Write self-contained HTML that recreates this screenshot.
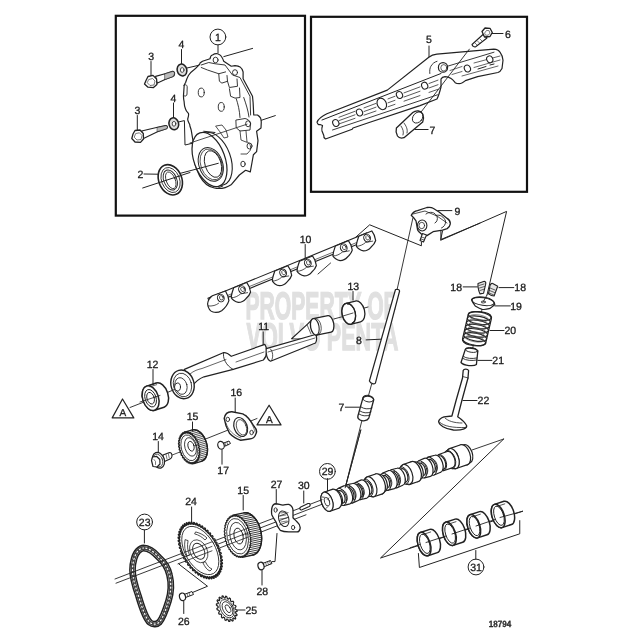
<!DOCTYPE html>
<html><head><meta charset="utf-8">
<style>
html,body{margin:0;padding:0;background:#fff;}
body{width:640px;height:640px;overflow:hidden;}
svg{display:block;will-change:transform;}
text{font-family:"Liberation Sans",sans-serif;font-size:10.5px;fill:#1a1a1a;stroke:#1a1a1a;stroke-width:0.3px;}
</style></head><body>
<svg width="640" height="640" viewBox="0 0 640 640" text-rendering="geometricPrecision">
<g id="wm" fill="#d9d9d9" stroke="none" style="font-weight:bold">
<text x="245.5" y="318.5" style="font-size:38.5px;fill:#e0e0e0;stroke:#e0e0e0;stroke-width:1.3px" textLength="151" lengthAdjust="spacingAndGlyphs">PROPERTY OF</text>
<text x="246.5" y="349.5" style="font-size:38.5px;fill:#e0e0e0;stroke:#e0e0e0;stroke-width:1.3px" textLength="152" lengthAdjust="spacingAndGlyphs">VOLVO PENTA</text>

</g>
<g fill="none" stroke="#111" stroke-width="2.2">
<rect x="115.8" y="15.8" width="189.2" height="199.8"/>
<rect x="311" y="16.8" width="216" height="175"/>
</g>
<g id="box1" fill="none" stroke="#222" stroke-width="1" stroke-linejoin="round" stroke-linecap="round">
<!-- callout 1 -->
<circle cx="217.9" cy="37" r="7.9"/>
<text x="218" y="40.6" text-anchor="middle" stroke="none">1</text>
<line x1="218" y1="44.9" x2="218" y2="53"/>
<!-- labels 3,4 upper -->
<text x="151.2" y="59.5" text-anchor="middle" stroke="none">3</text>
<line x1="151" y1="61.5" x2="151" y2="76"/>
<text x="181.5" y="48" text-anchor="middle" stroke="none">4</text>
<line x1="181.5" y1="49.5" x2="181.5" y2="64"/>
<!-- bolt upper -->
<path d="M155.6,76.4 L165,73.7 L172.5,71.4 C174,71.3 174.8,72.5 174.6,74 C174.5,75.5 174,76.2 173,76.6 L165,79.6 L157,83.3 Z" fill="#fff" stroke-width="1.1"/>
<path d="M165,73.8 L172.5,71.5 C174,71.4 174.7,72.5 174.5,74 L173,76.6 L165,79.5 Z" fill="#bbb" stroke-width="0.6"/>
<path d="M146,80.5 L148,76.5 L153,75.4 L156.6,79 L156.9,84.5 L153.5,87.6 L148,87.2 L144.5,84 Z" fill="#fff" stroke-width="1.3"/>
<path d="M149,79.5 L152.5,78.5 L155,81 L154,85 L150,85.5 L147.5,83 Z" stroke-width="0.6"/>
<!-- washer upper -->
<ellipse cx="182" cy="70" rx="4.8" ry="6" transform="rotate(-15 182 70)" stroke-width="1.5" fill="#ddd"/>
<ellipse cx="182.2" cy="70" rx="1.8" ry="2.4" fill="#fff" stroke-width="0.8"/>
<line x1="187" y1="68" x2="200" y2="65"/>
<line x1="223.8" y1="56.6" x2="252.6" y2="48.4"/>
<!-- labels lower -->
<text x="137.5" y="113.5" text-anchor="middle" stroke="none">3</text>
<line x1="137.3" y1="115.5" x2="137.3" y2="131"/>
<text x="173.5" y="101.7" text-anchor="middle" stroke="none">4</text>
<line x1="173.5" y1="103" x2="173.5" y2="118"/>
<!-- bolt lower -->
<path d="M141.7,131 L157.5,127.3 L165.5,125.6 C167,125.5 167.7,126.5 167.4,127.7 L166.5,128.8 L157.5,131.7 L143.5,138.6 Z" fill="#fff" stroke-width="1.1"/>
<path d="M157.5,127.4 L165.5,125.7 C167,125.6 167.6,126.5 167.3,127.7 L166.5,128.8 L157.5,131.6 Z" fill="#bbb" stroke-width="0.6"/>
<path d="M133,134 L135,130.5 L140,130 L143.3,133.5 L143.5,139 L140.5,142.4 L135,142 L131.8,138.5 Z" fill="#fff" stroke-width="1.3"/>
<path d="M136,133.5 L139.5,132.8 L142,135.5 L141,139.5 L137,140 L134.5,137.5 Z" stroke-width="0.6"/>
<ellipse cx="173.8" cy="123.8" rx="4.8" ry="6" transform="rotate(-15 173.8 123.8)" stroke-width="1.5" fill="#ddd"/>
<ellipse cx="174" cy="123.8" rx="1.8" ry="2.4" fill="#fff" stroke-width="0.8"/>
<path d="M178.8,121.9 L184.4,120.6 L185,145 L193.1,143.1"/>
<!-- cover outline -->
<path d="M200,63.1 L202.5,61.25 L210,58.75 C210.5,56.5 211.5,55 212.5,55 C214,54 216,53.5 217.5,53.75 C219.5,54.3 220.7,55.2 221.25,56.25 C222.5,58 223.3,60 223.75,61.25 L231.25,66.25 L235,65.6 C237.5,65.8 239,66.2 240,66.9 C242,68.5 243,70 243.1,71.9 L243.1,78.75 L252.5,96.25 L253.1,102.5 L253.75,115 L257.5,115 C259,116 260,117 260.6,118.1 C261.2,120 261.3,121.5 261.25,122.5 L261,128 L256.6,131.25 L258,140.6 L256.6,151.6 L253.4,154.7 L252,162.5 L250.3,171.9 L245.6,170.3 L239.4,175 L231.5,184.4 C226,188 221,189.5 214.4,188 C203,186 194,172 192.5,147 L193.4,144.4 L192.7,138.8 L191.25,130.3 C190.5,127.5 189.5,125.5 189.8,124.7 C188.5,122 187.5,120.5 187.7,119 C188.5,116.5 189,114.5 188.4,113.4 C186.8,111.8 185.8,110.5 185.6,109.2 C184.6,106.5 184.1,104.2 184.2,102.2 C183.6,99.5 183.4,97.5 183.5,95.2 L184.2,85.3 C184.8,83.8 185.2,83.2 185.6,82.5 C186.5,79.5 187.5,77.2 188.4,75.5 C190,73.2 192,71.2 194,69.8 C196.5,67.8 198,65.8 199.7,64.2 L200,63.1 Z" fill="#fff" stroke-width="1.2"/>
<!-- cover inner rim & ribs -->
<path d="M183.8,85.3 C185.5,84 187.2,85 187.2,87 L187,94 C187,96 185.3,96.8 183.6,95.5" stroke-width="0.9"/>
<path d="M201.25,65 L208.75,62.5 L215,63.75 L225,65 L228.75,70 L232.5,75 L240,77.5 L250,96.25 L250.6,115" stroke-width="0.9"/>
<path d="M201.25,67.5 L207.5,70 L218.75,73.75 L225.6,71.9 M218.75,73.75 L219.4,81.25 L221.9,83.1 L227.5,81.25 L227,75.5 M227.5,81.25 L229.4,87.5 L237.5,86.25 L237,79 M229.4,88.75 L230.6,96.25 L235,98.1 L240,97.5 L239.5,88" stroke-width="0.9"/>
<path d="M236.25,98.75 C238,104 239.5,110 240,117.5 M243.75,97.5 C246,104 248,110 249,117" stroke-width="0.9"/>
<path d="M236.25,120 L245,118.5 C248,119 250,121 250.5,123.5 L250,130 L240,131 L236.5,128 Z" stroke-width="0.9"/>
<path d="M246,131 L247,142 M240,131 L241,140 L246,142 C250,142 251,146 250.5,150 L247,154 L241,154" stroke-width="0.8"/>
<ellipse cx="215.6" cy="60" rx="2.5" ry="2.8" stroke-width="0.9"/>
<ellipse cx="235" cy="72.5" rx="2.5" ry="2.8" stroke-width="0.9"/>
<ellipse cx="248.1" cy="123.75" rx="2.5" ry="3" stroke-width="0.9"/>
<ellipse cx="249.5" cy="146" rx="2.5" ry="3" stroke-width="0.9"/>
<ellipse cx="243" cy="164" rx="2.2" ry="2.8" stroke-width="0.9"/>
<ellipse cx="201.25" cy="92.5" rx="3" ry="4.4" stroke-width="0.9"/>
<ellipse cx="221.25" cy="106.9" rx="3" ry="4.4" stroke-width="0.9"/>
<path d="M216,126 L222,125 L226,130 L228,137 L224,138 L220,132 Z" stroke-width="0.8"/>
<!-- boss -->
<ellipse cx="214.5" cy="159" rx="16" ry="27.5" transform="rotate(-20 214.5 159)" fill="#fff" stroke-width="1.1"/>
<path d="M203.75,131.25 L215,132.5 M218.75,187.5 L222.5,186.25" stroke-width="1"/>
<ellipse cx="209.5" cy="159.5" rx="15.5" ry="28.3" transform="rotate(-20 209.5 159.5)" fill="#fff" stroke-width="1.2"/>
<ellipse cx="210.8" cy="164.4" rx="11.8" ry="17.5" transform="rotate(-20 210.8 164.4)" stroke-width="1"/>
<ellipse cx="211.3" cy="164.4" rx="10.5" ry="16" transform="rotate(-20 211.3 164.4)" stroke-width="0.7"/>
<ellipse cx="213" cy="164" rx="8" ry="13.8" transform="rotate(-18 213 164)" stroke-width="0.9"/>
<line x1="180" y1="173.4" x2="218.3" y2="163.3"/>
<line x1="261.25" y1="120.3" x2="275.3" y2="115.6"/>
<line x1="190" y1="143" x2="247" y2="124.2" stroke-width="0.8"/>
<!-- seal 2 -->
<text x="140.3" y="177.8" text-anchor="middle" stroke="none">2</text>
<line x1="144" y1="174" x2="157.6" y2="174.2"/>
<ellipse cx="170.3" cy="179.8" rx="11.5" ry="15.7" transform="rotate(-22 170.3 179.8)" fill="#fff" stroke-width="1.6"/>
<ellipse cx="170.6" cy="180" rx="9" ry="13" transform="rotate(-22 170.6 180)" stroke-width="0.8"/>
<ellipse cx="170.3" cy="180" rx="6.5" ry="10.5" transform="rotate(-22 170.3 180)" stroke-width="0.9" fill="#fff"/>
<ellipse cx="170.8" cy="180.3" rx="4.5" ry="8.8" transform="rotate(-22 170.8 180.3)" stroke-width="0.8"/>
<line x1="142.7" y1="188" x2="190" y2="172.5"/>

</g>
<g id="box2" fill="none" stroke="#222" stroke-width="1" stroke-linejoin="round" stroke-linecap="round">
<text x="429" y="43.3" text-anchor="middle" stroke="none">5</text>
<line x1="429" y1="46" x2="429" y2="56.6"/>
<text x="508" y="37.7" text-anchor="middle" stroke="none">6</text>
<line x1="492" y1="33.5" x2="503" y2="33.5"/>
<path d="M317,122.2 C318,119.5 320,117 326.9,113.75 L387.3,90.1 L428.8,57.3 C431,55.5 433.5,54.5 436.9,54.2 L493.8,49.1 C496.5,49.3 499,50.5 500,52.2 C502,55 503,57.5 503,60.3 L502,68.5 C501,70.5 499.5,72 497.9,72.5 L477.6,76.6 L465.4,80.6 C463,82.5 461,83.7 459.3,83.7 C457.5,83.7 456,83.3 455.2,82.7 C453.5,80.5 452.5,79.5 451.1,78.6 C449,77 447,76.6 445,76.6 C443,76.8 441.5,78 441,79 L441,87 C440,91 438.5,96 437,99 L420,105.6 L368.4,122.8 L353,128 L352.2,129.2 L325.5,139 C324,138 323.5,137 323.8,135.5 L322,131 C321.5,129 322,127 322.5,125.5 L320,124.5 C318.5,125 317.5,124 317,122.2 Z" fill="#fff" stroke-width="1.2"/>
<path d="M322,120 L441,73.5" stroke-width="1"/>
<path d="M332.5,130 L437.5,94.8" stroke-width="0.9"/>
<path d="M447,66.4 L494,52.2" stroke-width="0.9"/>
<path d="M429.8,73.5 C429.5,70 430,68 430.8,66.4 C432.5,63.5 434.5,62 437,61.3" stroke-width="0.9"/>
<path d="M339,117.27 L355,111.27 M364,107.89 L376,103.39 M388,98.89 L395,96.26 M404,92.89 L420,86.89 M429,83.51 L438,80.13 M339,120.60 L355,114.80 M364,111.53 L376,107.18 M388,102.83 L395,100.30 M404,97.03 L420,91.23 M429,87.97 L438,84.71 M339,123.92 L355,118.32 M364,115.17 L376,110.98 M388,106.78 L395,104.33 M404,101.18 L420,95.58 M429,92.43 L438,89.29 " stroke-width="0.75"/>
<path d="M450,70.5 L462,66.5 M474,63 L500,56 M452,74.5 L462,71.5 M474,67.5 L500,60 M462,76 L498,66" stroke-width="0.7"/>
<path d="M478,69 L486,66.5 M490,65 L494,64" stroke-width="1"/>
<ellipse cx="335.8" cy="123" rx="3" ry="3.5" transform="rotate(-25 335.8 123)" fill="#fff" stroke-width="1.1"/>
<ellipse cx="359.5" cy="112.5" rx="3" ry="3.5" transform="rotate(-25 359.5 112.5)" fill="#fff" stroke-width="1.1"/>
<ellipse cx="381.8" cy="103.9" rx="4.5" ry="6" transform="rotate(-25 381.8 103.9)" fill="#fff" stroke-width="1.1"/>
<ellipse cx="399.5" cy="95" rx="3" ry="3.5" transform="rotate(-25 399.5 95)" fill="#fff" stroke-width="1.1"/>
<ellipse cx="424.7" cy="85.7" rx="3" ry="3.5" transform="rotate(-25 424.7 85.7)" fill="#fff" stroke-width="1.1"/>
<ellipse cx="467.4" cy="68.5" rx="3" ry="3.5" transform="rotate(-25 467.4 68.5)" fill="#fff" stroke-width="1.1"/>
<ellipse cx="489.75" cy="59.3" rx="3" ry="3.5" transform="rotate(-25 489.75 59.3)" fill="#fff" stroke-width="1.1"/>
<ellipse cx="443" cy="67.4" rx="4.6" ry="4.8" fill="#fff" stroke-width="1.2"/>
<ellipse cx="443.8" cy="67.8" rx="3" ry="3.2" stroke-width="0.7"/>
<path d="M483,34.5 L487,38 L476,46.5 C474.5,47.5 472.5,46.5 472,44.5 Z" fill="#fff" stroke-width="1.1"/>
<path d="M475,43 l2.5,2.5 M477.5,41 l2.5,2.5 M480,39 l2.5,2.5" stroke-width="0.6"/>
<path d="M482,31.5 L485,28 L490,28.3 L492.3,32.5 L490,36.5 L484.5,37 Z" fill="#fff" stroke-width="1.3"/>
<path d="M484.8,32.8 l1.8,-2.4 l2.5,0.3 l0.8,2.5 l-1.6,2 l-2.4,0 z" stroke-width="0.6"/>
<line x1="469.4" y1="49.1" x2="418" y2="116" stroke-width="0.9"/>
<path d="M412.8,112.6 C416,110 421,110.5 422.7,114 C424,117 423.5,120 422.7,121.9 L404,137.7 C401,138.5 398.5,137.5 397.5,136 C396,133 395.8,130 396.4,127.9 Z" fill="#fff" stroke-width="1.3"/>
<ellipse cx="417.7" cy="117.5" rx="4.6" ry="6.2" transform="rotate(40 417.7 117.5)" stroke-width="0.9"/>
<path d="M404,123 C406,126 408,129 407,133 M401,126 C403,129 404,132 403,135" stroke-width="0.8"/>
<line x1="415" y1="129.5" x2="428.1" y2="129.5"/>
<text x="432.5" y="133.6" text-anchor="middle" stroke="none">7</text>

</g>
<g id="main" fill="none" stroke="#222" stroke-width="1" stroke-linejoin="round" stroke-linecap="round">
<!-- rocker shaft 10 -->
<text x="305.6" y="242.6" text-anchor="middle" stroke="none">10</text>
<line x1="305.2" y1="244.5" x2="305.2" y2="258.4"/>
<g transform="translate(221 298.5) rotate(-22.3)">
<path d="M-12,-5.3 L160,-5.3 L160,1.6 L-12,1.6 Z" fill="#fff" stroke-width="1.1"/>
<path d="M-12,-0.3 L158,-0.3" stroke-width="0.6"/>
</g>
<g transform="translate(221 298.5) rotate(-22.3)"><path d="M-7,-5.8 L7,-5.3 C7.5,-2 7.5,2 6.5,5 C4,8 0,10.5 -4,11.5 C-7,12 -10,11.5 -12.5,9.5 C-14.5,8 -15.5,4 -14.5,0 C-13,-3 -10,-5 -7,-5.8 Z" fill="#fff" stroke-width="1.2"/><path d="M-14.8,2 C-11,4 -7,4.5 -4,3.5" stroke-width="0.7"/><ellipse cx="0" cy="-0.5" rx="3.3" ry="3.9" stroke-width="1"/><ellipse cx="0.6" cy="-0.5" rx="1.8" ry="2.3" stroke-width="0.7"/></g>

<g transform="translate(242.2 290) rotate(-22.3)"><path d="M-7,-5.3 L7,-5.3 C8,-2 7.5,3 7,5 C5,7.5 3,8.5 0,9.5 C-3,11 -6,11 -8.3,10 C-11,8.5 -13,5 -13,3 C-12,0 -9,-3 -7,-5.3 Z" fill="#fff" stroke-width="1.2"/><path d="M-13,3 C-10,4.5 -6,4 -3,3 L4,4.5" stroke-width="0.7"/><ellipse cx="0" cy="-0.5" rx="3.3" ry="3.9" stroke-width="1"/><ellipse cx="0.6" cy="-0.5" rx="1.8" ry="2.3" stroke-width="0.7"/></g>

<g transform="translate(283.3 273.3) rotate(-22.3)"><path d="M-7,-5.3 L7,-5.3 C8,-2 7.5,3 7,5 C5,7.5 3,8.5 0,9.5 C-3,11 -6,11 -8.3,10 C-11,8.5 -13,5 -13,3 C-12,0 -9,-3 -7,-5.3 Z" fill="#fff" stroke-width="1.2"/><path d="M-13,3 C-10,4.5 -6,4 -3,3 L4,4.5" stroke-width="0.7"/><ellipse cx="0" cy="-0.5" rx="3.3" ry="3.9" stroke-width="1"/><ellipse cx="0.6" cy="-0.5" rx="1.8" ry="2.3" stroke-width="0.7"/></g>

<g transform="translate(308 263.5) rotate(-22.3)"><path d="M-7,-5.3 L7,-5.3 C8,-2 7.5,3 7,5 C5,7.5 3,8.5 0,9.5 C-3,11 -6,11 -8.3,10 C-11,8.5 -13,5 -13,3 C-12,0 -9,-3 -7,-5.3 Z" fill="#fff" stroke-width="1.2"/><path d="M-13,3 C-10,4.5 -6,4 -3,3 L4,4.5" stroke-width="0.7"/><ellipse cx="0" cy="-0.5" rx="3.3" ry="3.9" stroke-width="1"/><ellipse cx="0.6" cy="-0.5" rx="1.8" ry="2.3" stroke-width="0.7"/></g>

<g transform="translate(343.9 248.2) rotate(-22.3)"><path d="M-7,-5.3 L7,-5.3 C8,-2 7.5,3 7,5 C5,7.5 3,8.5 0,9.5 C-3,11 -6,11 -8.3,10 C-11,8.5 -13,5 -13,3 C-12,0 -9,-3 -7,-5.3 Z" fill="#fff" stroke-width="1.2"/><path d="M-13,3 C-10,4.5 -6,4 -3,3 L4,4.5" stroke-width="0.7"/><ellipse cx="0" cy="-0.5" rx="3.3" ry="3.9" stroke-width="1"/><ellipse cx="0.6" cy="-0.5" rx="1.8" ry="2.3" stroke-width="0.7"/></g>

<g transform="translate(367.3 238.5) rotate(-22.3)"><path d="M-7,-5.3 L7,-5.3 C8,-2 7.5,3 7,5 C5,7.5 3,8.5 0,9.5 C-3,11 -6,11 -8.3,10 C-11,8.5 -13,5 -13,3 C-12,0 -9,-3 -7,-5.3 Z" fill="#fff" stroke-width="1.2"/><path d="M-13,3 C-10,4.5 -6,4 -3,3 L4,4.5" stroke-width="0.7"/><ellipse cx="0" cy="-0.5" rx="3.3" ry="3.9" stroke-width="1"/><ellipse cx="0.6" cy="-0.5" rx="1.8" ry="2.3" stroke-width="0.7"/></g>

<line x1="318" y1="274" x2="330.6" y2="263" stroke-width="0.9"/>
<path d="M355.6,237.3 L369.7,224.8 L421.4,245.8 L421.4,242" stroke-width="1"/>
<!-- rocker 9 -->
<text x="457.3" y="214.7" text-anchor="middle" stroke="none">9</text>
<line x1="437.8" y1="210.6" x2="451.9" y2="210.6"/>
<path d="M411.25,215.3 C413,212 415,211 417.5,210.6 L426.9,207.5 C430,207 432,207.5 433.1,208.3 L439.4,212.2 L447.2,218.4 C449.5,220 450.5,222 450.3,223.9 C450,226 449,227.5 447.2,228.6 L442.5,230.2 L433.1,231.7 L426.9,235.6 C424,236 422,235 420.6,233.3 C418.5,231.5 417.5,230.5 417.5,229.4 L416,220.8 L413.6,217.7 Z" fill="#fff" stroke-width="1.3"/>
<path d="M413,214 L425,211 L437,216 L447,223" stroke-width="0.8"/>
<ellipse cx="422.2" cy="225.5" rx="4.7" ry="5.5" stroke-width="1.1"/>
<ellipse cx="421.8" cy="225.5" rx="2.8" ry="3.2" stroke-width="0.8"/>
<path d="M426,214 C430,211 435,212 437,216.5 C438,219 437,222 435,223" stroke-width="0.9"/>
<path d="M436,215.5 C440,214 444,217 445.5,221 C446,224 444,227 441.5,228" stroke-width="0.9"/>
<path d="M422.5,233.5 L426.5,235 L423.5,242 L420,240.5 Z" fill="#fff" stroke-width="1.1"/>
<path d="M421.5,237 l3,1 M421,239 l3,1" stroke-width="0.7"/>
<path d="M480,223.1 L440.9,239.5 L440.9,231" stroke-width="1"/>
<path d="M442.5,231 L440.6,240.3 L506.6,211.4 L487,295" stroke-width="1"/>
<line x1="412.8" y1="218.4" x2="397" y2="290" stroke-width="0.9"/>
<!-- bushing 13 -->
<text x="353.3" y="289.5" text-anchor="middle" stroke="none">13</text>
<line x1="353" y1="291.5" x2="353" y2="300"/>
<g transform="translate(348.75 313.70) rotate(-14.00)">
<path d="M9.50,-10.70 L0.00,-10.70 A6.63,10.70 0 0 0 0.00,10.70 L9.50,10.70 A6.63,10.70 0 0 0 9.50,-10.70 Z" fill="#fff" stroke-width="1.3"/>
</g>
<g transform="translate(348.75 313.7) rotate(-14)"><ellipse cx="0" cy="0" rx="6.6" ry="10.7" fill="#fff" stroke-width="1.4"/><path d="M1,-9.8 A5.6,9.8 0 0 1 1,9.8" stroke-width="0.9"/></g>
<line x1="343" y1="316" x2="353" y2="313" stroke-width="0.8"/>
<line x1="333.75" y1="319" x2="342.3" y2="316.7" stroke-width="0.9"/>
<line x1="364.4" y1="308" x2="368" y2="307" stroke-width="0.9"/>
<!-- pushrod 8 -->
<path d="M395.5,289.5 C397.5,289 399.5,289.5 399.6,291 L375.4,383.1 C374,384.5 371,384 369.4,381 Z" fill="#fff" stroke-width="1.2"/>
<text x="358.9" y="343.6" text-anchor="middle" stroke="none">8</text>
<line x1="366.1" y1="339.9" x2="381" y2="339.2"/>
<line x1="371.6" y1="384.2" x2="368.3" y2="396.3" stroke-width="0.9"/>
<!-- tappet 7 -->
<path d="M362.8,398.4 C364,395.5 371,395 373.8,399.5 L368.8,418.1 C367,421 363,421.5 360,420 C358,419 357.5,417.5 357.9,416 Z" fill="#fff" stroke-width="1.3"/>
<ellipse cx="368.2" cy="398.6" rx="5.4" ry="3.2" transform="rotate(10 368.2 398.6)" stroke-width="1"/>
<path d="M361,407 C364,409 368,409.5 372,408 M360,411 C363,413 367,413.5 371,412 M359,414 C362,416 366,416.5 370,415" stroke-width="0.9"/>
<text x="341.5" y="411" text-anchor="middle" stroke="none">7</text>
<line x1="345.3" y1="407.2" x2="359.5" y2="407.2"/>
<line x1="361.7" y1="421.4" x2="345.2" y2="487.8" stroke-width="0.9"/>
<line x1="360.8" y1="430" x2="345.2" y2="487.8" stroke-width="0.9"/>
<!-- shaft 11 -->
<text x="263.6" y="330" text-anchor="middle" stroke="none">11</text>
<line x1="263.2" y1="331.9" x2="263.2" y2="345"/>
<path d="M184.4,369.4 L223.8,352.5 C226.5,352.5 229,354 231.3,356.3 L264.8,344.4 C267.5,348 267.5,356 263.4,360 L233.2,369.4 L204,376.8 C199.5,378.5 195.5,381.5 192,386.5 Z" fill="#fff" stroke-width="1.2"/>
<path d="M223.8,352.5 C222,357 226,366 233.2,369.4" stroke-width="0.9"/>
<path d="M190,374 C194,370.5 198,369.5 202,368.5 L226,359.5 M236,362 L264,352" stroke-width="0.7"/>
<path d="M291.6,338.75 L307,324.7 L312.7,319 L316.9,334.5 L315.5,339 Z" fill="#fff" stroke-width="1.1"/>
<path d="M266.25,348.6 L315.5,334.5 C317,336 317,341 315.5,343 L270.5,361.25 C267,360 265.5,353 266.25,348.6 Z" fill="#fff" stroke-width="1.2"/>
<path d="M268,352 L315,338" stroke-width="0.7"/>
<path d="M270.5,349 C273,352 273.5,357 271.5,360.5" stroke-width="0.8"/>
<path d="M307,324.7 L311,334" stroke-width="0.7"/>
<g transform="translate(314.80 326.80) rotate(-11.00)">
<path d="M15.00,-8.40 L0.00,-8.40 A4.20,8.40 0 0 0 0.00,8.40 L15.00,8.40 A4.20,8.40 0 0 0 15.00,-8.40 Z" fill="#fff" stroke-width="1.3"/>
<path d="M0.00,-8.40 A4.20,8.40 0 0 1 0.00,8.40" stroke-width="1.1"/>
</g>
<g transform="translate(314.8 326.8) rotate(-11)"><path d="M2.5,-8 A3.6,7.6 0 0 1 2.5,8" stroke-width="0.7"/></g>
<!-- flange of 11 -->
<ellipse cx="182.5" cy="384.4" rx="11.5" ry="14.5" transform="rotate(-15 182.5 384.4)" fill="#fff" stroke-width="1.4"/>
<ellipse cx="182.5" cy="385" rx="9" ry="12" transform="rotate(-15 182.5 385)" stroke-width="0.8"/>
<ellipse cx="181" cy="386" rx="6" ry="8.5" transform="rotate(-15 181 386)" stroke-width="0.8"/>
<ellipse cx="177.5" cy="387" rx="3" ry="4" stroke-width="1" fill="#fff"/>
<!-- keepers 18 -->
<text x="456.2" y="291.4" text-anchor="middle" stroke="none">18</text>
<line x1="463.2" y1="286.9" x2="477.3" y2="286.9"/>
<path d="M478,283.4 L484.3,281.25 C485.5,281.5 486,282.5 485.7,284 L483.6,293.2 L480,293.9 C479,292 478.3,289 478,286.9 Z" fill="#e6e6e6" stroke-width="1.1"/>
<path d="M479,285.5 l5,-1.5 M479.5,288 l5,-1.5 M480,290.5 l4.5,-1.5" stroke-width="0.7"/>
<path d="M490,285.5 C491,283.5 492,283 492.7,283.4 L497.7,286.2 L494.1,296 C492,296 490,295 488.5,293.9 Z" fill="#e6e6e6" stroke-width="1.1"/>
<path d="M490,288 l5,2 M489.5,290.5 l5,2 M489,293 l4.5,1.8" stroke-width="0.7"/>
<text x="520.2" y="291.4" text-anchor="middle" stroke="none">18</text>
<line x1="499" y1="287.6" x2="513.8" y2="287.6"/>
<!-- retainer 19 -->
<path d="M471.6,299.5 C474,297 480,296.5 486,297.5 C491,298.5 494,301 494.85,304.5 C492,307 490,308.5 489.2,308.7 C486,309.6 484,309.6 482.2,309.4 C479,308.5 477,307 475.2,305.9 C473,303 472,301 471.6,299.5 Z" fill="#fff" stroke-width="1.2"/>
<ellipse cx="483" cy="301.6" rx="11.3" ry="3.8" transform="rotate(8 483 301.6)" stroke-width="1"/>
<ellipse cx="483.3" cy="302" rx="2.2" ry="1" stroke-width="0.8"/>
<text x="516" y="309.6" text-anchor="middle" stroke="none">19</text>
<line x1="494.85" y1="305.9" x2="510.3" y2="305.9"/>
<line x1="487" y1="295" x2="483" y2="302" stroke-width="0.9"/>
<line x1="482" y1="309.4" x2="480.5" y2="316" stroke-width="0.8"/>
<!-- spring 20 -->
<g stroke-width="1.2">
<path d="M468,315.5 C468,311.5 478,311 485,312.5 C490,313.5 492,316 491.3,319 L485.7,343.1 C484,346 478,346.5 470,345 C464,343.5 462,341 462.5,339 Z" fill="#fff"/>
</g>
<g stroke-width="1.1">
<ellipse cx="479.70" cy="316.00" rx="11.6" ry="3.9" transform="rotate(10 479.70 316.00)"/>
<ellipse cx="478.80" cy="320.20" rx="11.6" ry="3.9" transform="rotate(10 478.80 320.20)"/>
<ellipse cx="477.90" cy="324.40" rx="11.6" ry="3.9" transform="rotate(10 477.90 324.40)"/>
<ellipse cx="477.00" cy="328.60" rx="11.6" ry="3.9" transform="rotate(10 477.00 328.60)"/>
<ellipse cx="476.10" cy="332.80" rx="11.6" ry="3.9" transform="rotate(10 476.10 332.80)"/>
<ellipse cx="475.20" cy="337.00" rx="11.6" ry="3.9" transform="rotate(10 475.20 337.00)"/>
<ellipse cx="474.30" cy="341.20" rx="11.6" ry="3.9" transform="rotate(10 474.30 341.20)"/>
</g><g stroke-width="0.6" stroke="#555">
<ellipse cx="479.30" cy="317.89" rx="9.6" ry="2.9" transform="rotate(10 479.30 317.89)"/>
<ellipse cx="478.39" cy="322.09" rx="9.6" ry="2.9" transform="rotate(10 478.39 322.09)"/>
<ellipse cx="477.50" cy="326.29" rx="9.6" ry="2.9" transform="rotate(10 477.50 326.29)"/>
<ellipse cx="476.59" cy="330.49" rx="9.6" ry="2.9" transform="rotate(10 476.59 330.49)"/>
<ellipse cx="475.69" cy="334.69" rx="9.6" ry="2.9" transform="rotate(10 475.69 334.69)"/>
<ellipse cx="474.80" cy="338.89" rx="9.6" ry="2.9" transform="rotate(10 474.80 338.89)"/>
</g>
<text x="510.3" y="334.3" text-anchor="middle" stroke="none">20</text>
<line x1="490" y1="330.5" x2="504" y2="330.5"/>
<line x1="473.5" y1="345" x2="472" y2="350" stroke-width="0.8"/>
<!-- seal 21 -->
<path d="M465.2,349.8 C466,347.5 476,347.5 477.8,351.25 L476.4,364.6 C474,366.5 464,366 461,362.5 Z" fill="#fff" stroke-width="1.3"/>
<ellipse cx="471.5" cy="350" rx="6.3" ry="2.3" transform="rotate(8 471.5 350)" stroke-width="0.9"/>
<path d="M463.5,356.5 C466,358.5 472,359 476.8,358 M463,358.5 C466,360.5 472,361 476.6,360" stroke-width="0.9"/>
<text x="498.2" y="364.2" text-anchor="middle" stroke="none">21</text>
<line x1="477.8" y1="360.4" x2="491.9" y2="360.4"/>
<!-- valve 22 -->
<path d="M463.2,370.5 C463.8,368.8 467.5,368.5 468.6,370.5 L468,378 L462,400 L457.7,416.8 C461,419 465,422.5 466.7,425.8 C467,428.5 462,430.5 453.4,430 C445,429 439,425 438.6,421.5 C439,419.5 442,417.5 444,416.8 L451.9,416 L456.2,400 L462.5,378 Z" fill="#fff" stroke-width="1.3"/>
<path d="M462.6,376.5 L468.2,378" stroke-width="0.8"/>
<path d="M440,422.5 C444,426 452,428 466,427.5" stroke-width="0.8"/>
<path d="M445,418 C448,421 454,423 462,423" stroke-width="0.8"/>
<text x="483.4" y="404.2" text-anchor="middle" stroke="none">22</text>
<line x1="463" y1="400.5" x2="477" y2="400.5"/>
<!-- camshaft -->
<g transform="translate(327.00 501.70) rotate(-18.90)">
<path d="M148.00,-9.50 L145.00,-10.50 A5.78,10.50 0 0 0 145.00,10.50 L148.00,9.50 A5.23,9.50 0 0 0 148.00,-9.50 Z" fill="#fff" stroke-width="1.2"/>
<path d="M145.00,-10.50 L133.00,-10.50 A5.78,10.50 0 0 0 133.00,10.50 L145.00,10.50 A5.78,10.50 0 0 0 145.00,-10.50 Z" fill="#fff" stroke-width="1.2"/>
<path d="M133.00,-10.50 A5.78,10.50 0 0 1 133.00,10.50" stroke-width="0.9"/>
<path d="M133.00,-10.50 L130.00,-9.50 A5.23,9.50 0 0 0 130.00,9.50 L133.00,10.50 A5.78,10.50 0 0 0 133.00,-10.50 Z" fill="#fff" stroke-width="1.2"/>
<path d="M130.00,-9.50 A5.23,9.50 0 0 1 130.00,9.50" stroke-width="0.9"/>
<path d="M130.00,-8.50 L121.00,-8.50 A4.68,8.50 0 0 0 121.00,8.50 L130.00,8.50 A4.68,8.50 0 0 0 130.00,-8.50 Z" fill="#fff" stroke-width="1.2"/>
<path d="M121.00,-8.50 A4.68,8.50 0 0 1 121.00,8.50" stroke-width="0.9"/>
<path d="M121.00,-7.00 L117.00,-7.00 A3.85,7.00 0 0 0 117.00,7.00 L121.00,7.00 A3.85,7.00 0 0 0 121.00,-7.00 Z" fill="#fff" stroke-width="1.2"/>
<path d="M117.00,-7.00 A3.85,7.00 0 0 1 117.00,7.00" stroke-width="0.9"/>
<path d="M117.00,-9.00 L110.00,-9.50 A5.23,9.50 0 0 0 110.00,9.50 L117.00,9.00 A4.95,9.00 0 0 0 117.00,-9.00 Z" fill="#fff" stroke-width="1.2"/>
<path d="M110.00,-9.50 A5.23,9.50 0 0 1 110.00,9.50" stroke-width="0.9"/>
<path d="M110.00,-7.00 L106.00,-7.00 A3.85,7.00 0 0 0 106.00,7.00 L110.00,7.00 A3.85,7.00 0 0 0 110.00,-7.00 Z" fill="#fff" stroke-width="1.2"/>
<path d="M106.00,-7.00 A3.85,7.00 0 0 1 106.00,7.00" stroke-width="0.9"/>
<path d="M106.00,-9.50 L100.00,-9.00 A4.95,9.00 0 0 0 100.00,9.00 L106.00,9.50 A5.23,9.50 0 0 0 106.00,-9.50 Z" fill="#fff" stroke-width="1.2"/>
<path d="M100.00,-9.00 A4.95,9.00 0 0 1 100.00,9.00" stroke-width="0.9"/>
<path d="M100.00,-6.50 L96.00,-6.50 A3.58,6.50 0 0 0 96.00,6.50 L100.00,6.50 A3.58,6.50 0 0 0 100.00,-6.50 Z" fill="#fff" stroke-width="1.2"/>
<path d="M96.00,-9.00 L93.00,-10.50 A5.78,10.50 0 0 0 93.00,10.50 L96.00,9.00 A4.95,9.00 0 0 0 96.00,-9.00 Z" fill="#fff" stroke-width="1.2"/>
<path d="M93.00,-10.50 L84.00,-10.50 A5.78,10.50 0 0 0 84.00,10.50 L93.00,10.50 A5.78,10.50 0 0 0 93.00,-10.50 Z" fill="#fff" stroke-width="1.2"/>
<path d="M84.00,-10.50 L81.00,-9.00 A4.95,9.00 0 0 0 81.00,9.00 L84.00,10.50 A5.78,10.50 0 0 0 84.00,-10.50 Z" fill="#fff" stroke-width="1.2"/>
<path d="M81.00,-9.00 A4.95,9.00 0 0 1 81.00,9.00" stroke-width="0.9"/>
<path d="M81.00,-7.00 L77.00,-7.00 A3.85,7.00 0 0 0 77.00,7.00 L81.00,7.00 A3.85,7.00 0 0 0 81.00,-7.00 Z" fill="#fff" stroke-width="1.2"/>
<path d="M77.00,-7.00 A3.85,7.00 0 0 1 77.00,7.00" stroke-width="0.9"/>
<path d="M77.00,-9.00 L71.00,-9.50 A5.23,9.50 0 0 0 71.00,9.50 L77.00,9.00 A4.95,9.00 0 0 0 77.00,-9.00 Z" fill="#fff" stroke-width="1.2"/>
<path d="M71.00,-9.50 A5.23,9.50 0 0 1 71.00,9.50" stroke-width="0.9"/>
<path d="M71.00,-7.00 L68.00,-7.00 A3.85,7.00 0 0 0 68.00,7.00 L71.00,7.00 A3.85,7.00 0 0 0 71.00,-7.00 Z" fill="#fff" stroke-width="1.2"/>
<path d="M68.00,-7.00 A3.85,7.00 0 0 1 68.00,7.00" stroke-width="0.9"/>
<path d="M68.00,-9.50 L62.00,-9.00 A4.95,9.00 0 0 0 62.00,9.00 L68.00,9.50 A5.23,9.50 0 0 0 68.00,-9.50 Z" fill="#fff" stroke-width="1.2"/>
<path d="M62.00,-9.00 A4.95,9.00 0 0 1 62.00,9.00" stroke-width="0.9"/>
<path d="M62.00,-6.50 L58.00,-6.50 A3.58,6.50 0 0 0 58.00,6.50 L62.00,6.50 A3.58,6.50 0 0 0 62.00,-6.50 Z" fill="#fff" stroke-width="1.2"/>
<path d="M58.00,-9.00 L55.00,-10.50 A5.78,10.50 0 0 0 55.00,10.50 L58.00,9.00 A4.95,9.00 0 0 0 58.00,-9.00 Z" fill="#fff" stroke-width="1.2"/>
<path d="M55.00,-10.50 L46.00,-10.50 A5.78,10.50 0 0 0 46.00,10.50 L55.00,10.50 A5.78,10.50 0 0 0 55.00,-10.50 Z" fill="#fff" stroke-width="1.2"/>
<path d="M46.00,-10.50 L43.00,-9.00 A4.95,9.00 0 0 0 43.00,9.00 L46.00,10.50 A5.78,10.50 0 0 0 46.00,-10.50 Z" fill="#fff" stroke-width="1.2"/>
<path d="M43.00,-9.00 A4.95,9.00 0 0 1 43.00,9.00" stroke-width="0.9"/>
<path d="M43.00,-7.00 L39.00,-7.00 A3.85,7.00 0 0 0 39.00,7.00 L43.00,7.00 A3.85,7.00 0 0 0 43.00,-7.00 Z" fill="#fff" stroke-width="1.2"/>
<path d="M39.00,-7.00 A3.85,7.00 0 0 1 39.00,7.00" stroke-width="0.9"/>
<path d="M39.00,-9.50 L33.00,-9.00 A4.95,9.00 0 0 0 33.00,9.00 L39.00,9.50 A5.23,9.50 0 0 0 39.00,-9.50 Z" fill="#fff" stroke-width="1.2"/>
<path d="M33.00,-9.00 A4.95,9.00 0 0 1 33.00,9.00" stroke-width="0.9"/>
<path d="M33.00,-7.00 L30.00,-7.00 A3.85,7.00 0 0 0 30.00,7.00 L33.00,7.00 A3.85,7.00 0 0 0 33.00,-7.00 Z" fill="#fff" stroke-width="1.2"/>
<path d="M30.00,-7.00 A3.85,7.00 0 0 1 30.00,7.00" stroke-width="0.9"/>
<path d="M30.00,-9.00 L24.00,-9.50 A5.23,9.50 0 0 0 24.00,9.50 L30.00,9.00 A4.95,9.00 0 0 0 30.00,-9.00 Z" fill="#fff" stroke-width="1.2"/>
<path d="M24.00,-9.50 A5.23,9.50 0 0 1 24.00,9.50" stroke-width="0.9"/>
<path d="M24.00,-7.00 L21.00,-7.00 A3.85,7.00 0 0 0 21.00,7.00 L24.00,7.00 A3.85,7.00 0 0 0 24.00,-7.00 Z" fill="#fff" stroke-width="1.2"/>
<path d="M21.00,-7.00 A3.85,7.00 0 0 1 21.00,7.00" stroke-width="0.9"/>
<path d="M21.00,-9.50 L15.00,-9.00 A4.95,9.00 0 0 0 15.00,9.00 L21.00,9.50 A5.23,9.50 0 0 0 21.00,-9.50 Z" fill="#fff" stroke-width="1.2"/>
<path d="M15.00,-9.00 A4.95,9.00 0 0 1 15.00,9.00" stroke-width="0.9"/>
<path d="M15.00,-6.50 L11.00,-6.50 A3.58,6.50 0 0 0 11.00,6.50 L15.00,6.50 A3.58,6.50 0 0 0 15.00,-6.50 Z" fill="#fff" stroke-width="1.2"/>
<path d="M11.00,-8.50 L9.00,-10.00 A5.50,10.00 0 0 0 9.00,10.00 L11.00,8.50 A4.68,8.50 0 0 0 11.00,-8.50 Z" fill="#fff" stroke-width="1.2"/>
<path d="M9.00,-10.00 L0.00,-10.00 A5.50,10.00 0 0 0 0.00,10.00 L9.00,10.00 A5.50,10.00 0 0 0 9.00,-10.00 Z" fill="#fff" stroke-width="1.2"/>
<path d="M0.00,-10.00 A5.50,10.00 0 0 1 0.00,10.00" stroke-width="0.9"/>
</g>
<g transform="translate(327 501.7) rotate(-18.90)"><path d="M17.20,-6.75 A3.71,6.75 0 0 1 17.20,6.75 M26.20,-7.12 A3.92,7.12 0 0 1 26.20,7.12 M35.20,-6.75 A3.71,6.75 0 0 1 35.20,6.75 M64.20,-6.75 A3.71,6.75 0 0 1 64.20,6.75 M73.20,-7.12 A3.92,7.12 0 0 1 73.20,7.12 M102.20,-6.75 A3.71,6.75 0 0 1 102.20,6.75 M112.20,-7.12 A3.92,7.12 0 0 1 112.20,7.12" stroke-width="0.8"/></g>
<g transform="translate(327 501.7) rotate(-18.90)"><ellipse cx="0" cy="0" rx="5.5" ry="10" fill="#fff" stroke-width="1.2"/><ellipse cx="0" cy="0" rx="2.5" ry="4.5" stroke-width="0.8"/><path d="M-3,-6 l2,1 M-3,6 l2,-1 M3,-3 l-2,1" stroke-width="0.7"/></g>
<line x1="360.8" y1="430" x2="345.2" y2="487.8" stroke-width="0.9"/>
<circle cx="327.4" cy="471.4" r="7.9"/><text x="327.5" y="475" text-anchor="middle" stroke="none">29</text><line x1="327.5" y1="478.6" x2="327.5" y2="491"/>
<line x1="472" y1="450" x2="503.7" y2="439" stroke-width="0.9"/>
<path d="M503.7,439 L380.5,558 L522.6,511.25" stroke-width="1"/>
<g transform="translate(498.20 516.00) rotate(-18.00)">
<path d="M10.00,-12.20 L0.00,-12.20 A6.10,12.20 0 0 0 0.00,12.20 L10.00,12.20 A6.10,12.20 0 0 0 10.00,-12.20 Z" fill="#fff" stroke-width="1.5"/>
</g>
<g transform="translate(498.2 516) rotate(-18)"><ellipse cx="0" cy="0" rx="6.1" ry="12.2" fill="#fff" stroke-width="1.5"/><ellipse cx="0.8" cy="0" rx="4.6" ry="10" stroke-width="0.9"/><path d="M2,-9.5 L10,-9.5" stroke-width="0.7"/></g>
<g transform="translate(473.80 526.30) rotate(-18.00)">
<path d="M10.00,-12.20 L0.00,-12.20 A6.10,12.20 0 0 0 0.00,12.20 L10.00,12.20 A6.10,12.20 0 0 0 10.00,-12.20 Z" fill="#fff" stroke-width="1.5"/>
</g>
<g transform="translate(473.8 526.3) rotate(-18)"><ellipse cx="0" cy="0" rx="6.1" ry="12.2" fill="#fff" stroke-width="1.5"/><ellipse cx="0.8" cy="0" rx="4.6" ry="10" stroke-width="0.9"/><path d="M2,-9.5 L10,-9.5" stroke-width="0.7"/></g>
<g transform="translate(449.40 533.80) rotate(-18.00)">
<path d="M10.00,-12.20 L0.00,-12.20 A6.10,12.20 0 0 0 0.00,12.20 L10.00,12.20 A6.10,12.20 0 0 0 10.00,-12.20 Z" fill="#fff" stroke-width="1.5"/>
</g>
<g transform="translate(449.4 533.8) rotate(-18)"><ellipse cx="0" cy="0" rx="6.1" ry="12.2" fill="#fff" stroke-width="1.5"/><ellipse cx="0.8" cy="0" rx="4.6" ry="10" stroke-width="0.9"/><path d="M2,-9.5 L10,-9.5" stroke-width="0.7"/></g>
<g transform="translate(424.10 544.10) rotate(-18.00)">
<path d="M10.00,-12.20 L0.00,-12.20 A6.10,12.20 0 0 0 0.00,12.20 L10.00,12.20 A6.10,12.20 0 0 0 10.00,-12.20 Z" fill="#fff" stroke-width="1.5"/>
</g>
<g transform="translate(424.1 544.1) rotate(-18)"><ellipse cx="0" cy="0" rx="6.1" ry="12.2" fill="#fff" stroke-width="1.5"/><ellipse cx="0.8" cy="0" rx="4.6" ry="10" stroke-width="0.9"/><path d="M2,-9.5 L10,-9.5" stroke-width="0.7"/></g>
<line x1="410" y1="547.8" x2="420" y2="544.5" stroke-width="0.9"/>
<path d="M426,542.5 L446,536 M452,534 L470,528 M476,526 L495,519.5 M500,517.5 L522.6,511.25" stroke-width="0.9"/>
<path d="M418.4,553.5 L419.4,567.5 L519.75,533.8 L519.75,520.6" stroke-width="1"/>
<line x1="475.8" y1="550.5" x2="475.8" y2="559.1"/>
<circle cx="476" cy="567" r="7.9"/><text x="476" y="570.7" text-anchor="middle" stroke="none">31</text>
<text x="500" y="626.9" text-anchor="middle" stroke="none" style="font-size:9px;font-weight:bold;fill:#333" textLength="22.5" lengthAdjust="spacingAndGlyphs">18794</text><path d="M122.5,399 L112.2,417.9 L133.8,417.9 Z" fill="#fff" stroke-width="1.2"/>
<text x="122.9" y="416" text-anchor="middle" stroke="none" style="font-size:10px">A</text>
<line x1="130" y1="407.5" x2="144" y2="402" stroke-width="0.9"/>
<line x1="160" y1="395.5" x2="174" y2="389.7" stroke-width="0.9"/>
<g transform="translate(150.60 398.20) rotate(-18.00)">
<path d="M10.00,-12.70 L0.00,-12.70 A7.87,12.70 0 0 0 0.00,12.70 L10.00,12.70 A7.87,12.70 0 0 0 10.00,-12.70 Z" fill="#fff" stroke-width="1.5"/>
</g>
<g transform="translate(150.6 398.2) rotate(-18)"><ellipse cx="0" cy="0" rx="7.9" ry="12.7" fill="#fff" stroke-width="1.5"/><ellipse cx="0" cy="0" rx="5.5" ry="9" stroke-width="0.9"/><ellipse cx="0" cy="0" rx="3.6" ry="6" stroke-width="0.9"/><path d="M2,-12.6 L10,-12.6 M3,-11 L10,-11" stroke-width="0.6"/></g>
<line x1="140" y1="402" x2="160" y2="395.5" stroke-width="0.8"/>
<text x="152.5" y="367.5" text-anchor="middle" stroke="none">12</text>
<line x1="153" y1="369.5" x2="153" y2="385"/>
<g transform="translate(189.2 447.8) rotate(-16)">
<path d="M0,-16.4 L8,-16.4 A10,16.4 0 0 1 8,16.4 L0,16.4 Z" fill="#fff" stroke-width="1.3"/>
<line x1="1.60" y1="-14.58" x2="12.35" y2="-14.58" stroke-width="0.7"/>
<line x1="2.20" y1="-12.76" x2="13.97" y2="-12.76" stroke-width="0.7"/>
<line x1="2.61" y1="-10.93" x2="15.08" y2="-10.93" stroke-width="0.7"/>
<line x1="2.91" y1="-9.11" x2="15.90" y2="-9.11" stroke-width="0.7"/>
<line x1="3.14" y1="-7.29" x2="16.51" y2="-7.29" stroke-width="0.7"/>
<line x1="3.30" y1="-5.47" x2="16.96" y2="-5.47" stroke-width="0.7"/>
<line x1="3.41" y1="-3.64" x2="17.26" y2="-3.64" stroke-width="0.7"/>
<line x1="3.48" y1="-1.82" x2="17.44" y2="-1.82" stroke-width="0.7"/>
<line x1="3.50" y1="0.00" x2="17.50" y2="0.00" stroke-width="0.7"/>
<line x1="3.48" y1="1.82" x2="17.44" y2="1.82" stroke-width="0.7"/>
<line x1="3.41" y1="3.64" x2="17.26" y2="3.64" stroke-width="0.7"/>
<line x1="3.30" y1="5.47" x2="16.96" y2="5.47" stroke-width="0.7"/>
<line x1="3.14" y1="7.29" x2="16.51" y2="7.29" stroke-width="0.7"/>
<line x1="2.91" y1="9.11" x2="15.90" y2="9.11" stroke-width="0.7"/>
<line x1="2.61" y1="10.93" x2="15.08" y2="10.93" stroke-width="0.7"/>
<line x1="2.20" y1="12.76" x2="13.97" y2="12.76" stroke-width="0.7"/>
<line x1="1.60" y1="14.58" x2="12.35" y2="14.58" stroke-width="0.7"/>
<path d="M8,-16.4 A10,16.4 0 0 1 8,16.4" stroke-width="1.3"/>
<path d="M9.30,0.00 L9.99,0.76 L9.96,1.51 L9.21,2.11 L9.14,2.80 L9.73,3.75 L9.62,4.49 L8.82,4.85 L8.67,5.51 L9.15,6.62 L8.95,7.31 L8.12,7.42 L7.91,8.03 L8.25,9.27 L7.98,9.88 L7.15,9.74 L6.87,10.28 L7.07,11.60 L6.74,12.12 L5.94,11.73 L5.60,12.17 L5.65,13.53 L5.26,13.94 L4.53,13.32 L4.15,13.65 L4.04,15.00 L3.61,15.29 L2.96,14.46 L2.55,14.67 L2.29,15.96 L1.84,16.12 L1.28,15.11 L0.86,15.19 L0.46,16.38 L0.00,16.40 L-0.43,15.24 L-0.86,15.19 L-1.38,16.24 L-1.84,16.12 L-2.13,14.85 L-2.55,14.67 L-3.18,15.55 L-3.61,15.29 L-3.76,13.95 L-4.15,13.65 L-4.87,14.33 L-5.26,13.94 L-5.26,12.58 L-5.60,12.17 L-6.39,12.62 L-6.74,12.12 L-6.58,10.78 L-6.87,10.28 L-7.69,10.48 L-7.98,9.88 L-7.67,8.62 L-7.91,8.03 L-8.74,7.98 L-8.95,7.31 L-8.51,6.16 L-8.67,5.51 L-9.48,5.21 L-9.62,4.49 L-9.05,3.49 L-9.14,2.80 L-9.90,2.27 L-9.96,1.51 L-9.29,0.70 L-9.30,0.00 L-9.99,-0.76 L-9.96,-1.51 L-9.21,-2.11 L-9.14,-2.80 L-9.73,-3.75 L-9.62,-4.49 L-8.82,-4.85 L-8.67,-5.51 L-9.15,-6.62 L-8.95,-7.31 L-8.12,-7.42 L-7.91,-8.03 L-8.25,-9.27 L-7.98,-9.88 L-7.15,-9.74 L-6.87,-10.28 L-7.07,-11.60 L-6.74,-12.12 L-5.94,-11.73 L-5.60,-12.17 L-5.65,-13.53 L-5.26,-13.94 L-4.53,-13.32 L-4.15,-13.65 L-4.04,-15.00 L-3.61,-15.29 L-2.96,-14.46 L-2.55,-14.67 L-2.29,-15.96 L-1.84,-16.12 L-1.28,-15.11 L-0.86,-15.19 L-0.46,-16.38 L-0.00,-16.40 L0.43,-15.24 L0.86,-15.19 L1.38,-16.24 L1.84,-16.12 L2.13,-14.85 L2.55,-14.67 L3.18,-15.55 L3.61,-15.29 L3.76,-13.95 L4.15,-13.65 L4.87,-14.33 L5.26,-13.94 L5.26,-12.58 L5.60,-12.17 L6.39,-12.62 L6.74,-12.12 L6.58,-10.78 L6.87,-10.28 L7.69,-10.48 L7.98,-9.88 L7.67,-8.62 L7.91,-8.03 L8.74,-7.98 L8.95,-7.31 L8.51,-6.16 L8.67,-5.51 L9.48,-5.21 L9.62,-4.49 L9.05,-3.49 L9.14,-2.80 L9.90,-2.27 L9.96,-1.51 L9.29,-0.70 Z" fill="#fff" stroke-width="1.4"/>
<ellipse cx="0" cy="0" rx="7.8" ry="13.2" stroke-width="0.8"/>
<ellipse cx="1.5" cy="-0.5" rx="5.6" ry="9.5" stroke-width="0.8"/>
<ellipse cx="2.2" cy="-1" rx="3" ry="5" stroke-width="0.9"/>
</g>
<text x="192.5" y="420" text-anchor="middle" stroke="none">15</text>
<line x1="192.5" y1="422" x2="192.5" y2="431"/>
<path d="M163,455 L169.5,452.5 C171,452.5 172,454 172,456 C172,457.5 171,458.5 170,459 L164.5,461.5 Z" fill="#fff" stroke-width="1.1"/>
<path d="M166,454.5 l1,4.5 M168.3,453.6 l1,4.5" stroke-width="0.6"/>
<ellipse cx="158.5" cy="460.2" rx="5.8" ry="8.1" transform="rotate(-20 158.5 460.2)" fill="#fff" stroke-width="1.2"/>
<ellipse cx="158" cy="460.5" rx="4.5" ry="6.6" transform="rotate(-20 158 460.5)" stroke-width="0.7"/>
<path d="M151.5,460.5 L152.5,457 L156.5,456.3 L159.8,459.5 L160,464 L157,467 L153,466.5 Z" fill="#fff" stroke-width="1.2"/>
<path d="M154,459.5 l1.5,2 l0,3" stroke-width="0.6"/>
<text x="158" y="439.5" text-anchor="middle" stroke="none">14</text>
<line x1="158.3" y1="441.5" x2="158.3" y2="452"/>
<line x1="172.2" y1="455" x2="180" y2="452" stroke-width="0.8"/>
<line x1="205.6" y1="439" x2="257" y2="418.5" stroke-width="0.9"/>
<path d="M224.2,418.3 C225,414 228,411.5 231.9,411.7 L242.8,413.9 C247,416 251,421 253.8,426 C256.5,429 257,432 256,433.6 C255,437 252,439 249.4,439 L240.7,440.2 C236,439 232,436 229.7,433.6 C227,429 225,424 224.2,418.3 Z" fill="#fff" stroke-width="1.4"/>
<path d="M226,423 C228,430 234,436 241,438 M246,415 C250,420 254,427 255,432" stroke-width="0.6"/>
<ellipse cx="240.7" cy="427" rx="6.5" ry="9.8" transform="rotate(-20 240.7 427)" fill="#fff" stroke-width="1.2"/>
<ellipse cx="241.5" cy="427.3" rx="4.8" ry="8" transform="rotate(-20 241.5 427.3)" stroke-width="0.7"/>
<ellipse cx="227.8" cy="419.4" rx="1.8" ry="2.2" stroke-width="0.9"/>
<ellipse cx="251.6" cy="432.5" rx="1.8" ry="2.2" stroke-width="0.9"/>
<text x="236.3" y="396" text-anchor="middle" stroke="none">16</text>
<line x1="235.2" y1="398" x2="235.2" y2="411.7"/>
<path d="M269.1,405.2 L257,424.9 L281,424.9 Z" fill="#fff" stroke-width="1.2"/>
<text x="269.3" y="423" text-anchor="middle" stroke="none" style="font-size:10px">A</text>
<path d="M222.5,443.5 L229,441 L230.5,443.5 L224,446.5 Z" fill="#fff" stroke-width="1"/>
<path d="M225,443 l0.8,3 M227,442.2 l0.8,3" stroke-width="0.6"/>
<ellipse cx="221" cy="445.3" rx="3.2" ry="4" transform="rotate(-15 221 445.3)" fill="#fff" stroke-width="1.2"/>
<line x1="222" y1="450" x2="222" y2="464.2"/>
<text x="223.2" y="474" text-anchor="middle" stroke="none">17</text><path d="M143.5,548 C150,548 155,553 159,557.5 C164,562 168,568 169.5,575 C171.5,583 171,593 168.5,601 C166,609 163.5,617 159.5,622 C157,624.5 153,625 150,622.5 C146,619 142,608 138.5,596 C135,586 132.5,577 132.5,570 C132.5,562 135,554 138,551 C140,549 141.5,548 143.5,548 Z" stroke="#222" stroke-width="6.8"/>
<path d="M143.5,548 C150,548 155,553 159,557.5 C164,562 168,568 169.5,575 C171.5,583 171,593 168.5,601 C166,609 163.5,617 159.5,622 C157,624.5 153,625 150,622.5 C146,619 142,608 138.5,596 C135,586 132.5,577 132.5,570 C132.5,562 135,554 138,551 C140,549 141.5,548 143.5,548 Z" stroke="#fff" stroke-width="3.8"/>
<path d="M143.5,548 C150,548 155,553 159,557.5 C164,562 168,568 169.5,575 C171.5,583 171,593 168.5,601 C166,609 163.5,617 159.5,622 C157,624.5 153,625 150,622.5 C146,619 142,608 138.5,596 C135,586 132.5,577 132.5,570 C132.5,562 135,554 138,551 C140,549 141.5,548 143.5,548 Z" stroke="#444" stroke-width="3.8" stroke-dasharray="1.6 2.2"/>
<path d="M143.5,548 C150,548 155,553 159,557.5 C164,562 168,568 169.5,575 C171.5,583 171,593 168.5,601 C166,609 163.5,617 159.5,622 C157,624.5 153,625 150,622.5 C146,619 142,608 138.5,596 C135,586 132.5,577 132.5,570 C132.5,562 135,554 138,551 C140,549 141.5,548 143.5,548 Z" stroke="#fff" stroke-width="1.2" stroke-dasharray="1 2.8" stroke-dashoffset="1.5"/>
<line x1="115" y1="579.0" x2="322" y2="499.7" stroke-width="0.9"/>
<line x1="116" y1="583.2" x2="322" y2="504.3" stroke-width="0.9"/>
<line x1="178" y1="563.9" x2="306" y2="514.8" stroke-width="0.9"/>
<circle cx="144.6" cy="522" r="7.9"/>
<text x="144.7" y="525.6" text-anchor="middle" stroke="none">23</text>
<line x1="144.4" y1="529.9" x2="144.4" y2="543"/>
<path d="M215.04,541.99 L216.63,542.20 L217.09,543.05 L216.33,544.38 L216.73,545.19 L218.38,545.66 L218.77,546.54 L217.83,547.64 L218.16,548.47 L219.84,549.20 L220.16,550.09 L219.05,550.95 L219.31,551.78 L221.00,552.76 L221.24,553.65 L219.98,554.25 L220.16,555.07 L221.83,556.29 L221.99,557.16 L220.59,557.50 L220.70,558.29 L222.32,559.72 L222.39,560.56 L220.89,560.63 L220.91,561.39 L222.47,563.01 L222.45,563.81 L220.86,563.60 L220.80,564.31 L222.26,566.11 L222.16,566.84 L220.51,566.37 L220.37,567.02 L221.71,568.95 L221.52,569.62 L219.84,568.88 L219.62,569.47 L220.82,571.50 L220.55,572.09 L218.86,571.11 L218.56,571.62 L219.61,573.73 L219.25,574.23 L217.58,573.01 L217.22,573.43 L218.09,575.58 L217.66,575.99 L216.04,574.56 L215.61,574.88 L216.29,577.05 L215.80,577.35 L214.24,575.72 L213.76,575.95 L214.24,578.09 L213.69,578.28 L212.23,576.49 L211.70,576.62 L211.97,578.70 L211.37,578.78 L210.03,576.85 L209.45,576.88 L209.52,578.86 L208.88,578.83 L207.68,576.79 L207.07,576.71 L206.92,578.57 L206.25,578.43 L205.20,576.32 L204.57,576.14 L204.21,577.85 L203.52,577.60 L202.66,575.44 L202.01,575.16 L201.45,576.69 L200.75,576.33 L200.07,574.17 L199.42,573.79 L198.66,575.12 L197.97,574.66 L197.49,572.53 L196.85,572.06 L195.90,573.16 L195.22,572.61 L194.95,570.53 L194.33,569.99 L193.22,570.84 L192.56,570.21 L192.50,568.23 L191.90,567.60 L190.64,568.20 L190.02,567.50 L190.17,565.64 L189.61,564.95 L188.21,565.29 L187.64,564.52 L188.00,562.81 L187.48,562.07 L185.98,562.14 L185.46,561.32 L186.02,559.79 L185.56,559.01 L183.97,558.80 L183.51,557.95 L184.27,556.62 L183.87,555.81 L182.22,555.34 L181.83,554.46 L182.77,553.36 L182.44,552.53 L180.76,551.80 L180.44,550.91 L181.55,550.05 L181.29,549.22 L179.60,548.24 L179.36,547.35 L180.62,546.75 L180.44,545.93 L178.77,544.71 L178.61,543.84 L180.01,543.50 L179.90,542.71 L178.28,541.28 L178.21,540.44 L179.71,540.37 L179.69,539.61 L178.13,537.99 L178.15,537.19 L179.74,537.40 L179.80,536.69 L178.34,534.89 L178.44,534.16 L180.09,534.63 L180.23,533.98 L178.89,532.05 L179.08,531.38 L180.76,532.12 L180.98,531.53 L179.78,529.50 L180.05,528.91 L181.74,529.89 L182.04,529.38 L180.99,527.27 L181.35,526.77 L183.02,527.99 L183.38,527.57 L182.51,525.42 L182.94,525.01 L184.56,526.44 L184.99,526.12 L184.31,523.95 L184.80,523.65 L186.36,525.28 L186.84,525.05 L186.36,522.91 L186.91,522.72 L188.37,524.51 L188.90,524.38 L188.63,522.30 L189.23,522.22 L190.57,524.15 L191.15,524.12 L191.08,522.14 L191.72,522.17 L192.92,524.21 L193.53,524.29 L193.68,522.43 L194.35,522.57 L195.40,524.68 L196.03,524.86 L196.39,523.15 L197.08,523.40 L197.94,525.56 L198.59,525.84 L199.15,524.31 L199.85,524.67 L200.53,526.83 L201.18,527.21 L201.94,525.88 L202.63,526.34 L203.11,528.47 L203.75,528.94 L204.70,527.84 L205.38,528.39 L205.65,530.47 L206.27,531.01 L207.38,530.16 L208.04,530.79 L208.10,532.77 L208.70,533.40 L209.96,532.80 L210.58,533.50 L210.43,535.36 L210.99,536.05 L212.39,535.71 L212.96,536.48 L212.60,538.19 L213.12,538.93 L214.62,538.86 L215.14,539.68 L214.58,541.21 Z" fill="#fff" stroke-width="1.3"/>
<ellipse cx="200.3" cy="550.5" rx="16.9" ry="29.4" transform="rotate(-30 200.3 550.5)" stroke-width="1.1" stroke-dasharray="1.2 0.9"/>
<ellipse cx="200.3" cy="550.5" rx="15" ry="26.5" transform="rotate(-30 200.3 550.5)" stroke-width="0.8"/>
<ellipse cx="198.75" cy="551.25" rx="5.5" ry="8.5" transform="rotate(-25 198.75 551.25)" stroke-width="0.9"/>
<ellipse cx="198.75" cy="551.25" rx="8.5" ry="12" transform="rotate(-25 198.75 551.25)" stroke-width="0.7"/>
<path d="M185,540 C184,546 185,551 187,556 L189.5,555 C187.5,550 187,546 188,541 Z" stroke-width="0.8"/>
<path d="M203,563 C205,567 207,570 210,571 L212,569 C209,568 207,565 205.5,562 Z" stroke-width="0.8"/>
<path d="M195,534 C199,535 202,537 205,540 L207,538 C204,535 200,533 196,532 Z" stroke-width="0.8"/>
<text x="191" y="505" text-anchor="middle" stroke="none">24</text>
<line x1="191.6" y1="507" x2="191.6" y2="521.9"/>
<line x1="185" y1="552.2" x2="212" y2="541.8" stroke-width="0.8"/>
<line x1="185" y1="556.8" x2="212" y2="546.4" stroke-width="0.8"/>
<line x1="185" y1="561.2" x2="212" y2="550.8" stroke-width="0.8"/>
<g transform="translate(237.6 536.25) rotate(-12)">
<path d="M0,-21.5 L11,-21.5 A12.8,21.5 0 0 1 11,21.5 L0,21.5 Z" fill="#fff" stroke-width="1.3"/>
<line x1="1.07" y1="-19.55" x2="16.23" y2="-19.55" stroke-width="0.8"/>
<line x1="1.47" y1="-17.59" x2="18.21" y2="-17.59" stroke-width="0.8"/>
<line x1="1.76" y1="-15.64" x2="19.61" y2="-15.64" stroke-width="0.8"/>
<line x1="1.97" y1="-13.68" x2="20.68" y2="-13.68" stroke-width="0.8"/>
<line x1="2.15" y1="-11.73" x2="21.51" y2="-11.73" stroke-width="0.8"/>
<line x1="2.28" y1="-9.77" x2="22.17" y2="-9.77" stroke-width="0.8"/>
<line x1="2.38" y1="-7.82" x2="22.69" y2="-7.82" stroke-width="0.8"/>
<line x1="2.46" y1="-5.86" x2="23.07" y2="-5.86" stroke-width="0.8"/>
<line x1="2.52" y1="-3.91" x2="23.33" y2="-3.91" stroke-width="0.8"/>
<line x1="2.55" y1="-1.95" x2="23.49" y2="-1.95" stroke-width="0.8"/>
<line x1="2.56" y1="0.00" x2="23.54" y2="0.00" stroke-width="0.8"/>
<line x1="2.55" y1="1.95" x2="23.49" y2="1.95" stroke-width="0.8"/>
<line x1="2.52" y1="3.91" x2="23.33" y2="3.91" stroke-width="0.8"/>
<line x1="2.46" y1="5.86" x2="23.07" y2="5.86" stroke-width="0.8"/>
<line x1="2.38" y1="7.82" x2="22.69" y2="7.82" stroke-width="0.8"/>
<line x1="2.28" y1="9.77" x2="22.17" y2="9.77" stroke-width="0.8"/>
<line x1="2.15" y1="11.73" x2="21.51" y2="11.73" stroke-width="0.8"/>
<line x1="1.97" y1="13.68" x2="20.68" y2="13.68" stroke-width="0.8"/>
<line x1="1.76" y1="15.64" x2="19.61" y2="15.64" stroke-width="0.8"/>
<line x1="1.47" y1="17.59" x2="18.21" y2="17.59" stroke-width="0.8"/>
<line x1="1.07" y1="19.55" x2="16.23" y2="19.55" stroke-width="0.8"/>
<path d="M11,-21.5 A12.8,21.5 0 0 1 11,21.5" stroke-width="1.3"/>
<path d="M12.16,0.00 L12.79,0.80 L12.76,1.61 L12.08,2.29 L12.02,3.04 L12.58,4.00 L12.48,4.78 L11.75,5.29 L11.62,6.02 L12.08,7.10 L11.92,7.85 L11.15,8.17 L10.96,8.86 L11.32,10.05 L11.09,10.75 L10.30,10.87 L10.05,11.51 L10.30,12.77 L10.01,13.41 L9.22,13.32 L8.91,13.89 L9.05,15.20 L8.71,15.76 L7.93,15.48 L7.58,15.97 L7.60,17.30 L7.21,17.76 L6.47,17.29 L6.08,17.69 L5.98,19.01 L5.55,19.37 L4.86,18.72 L4.44,19.01 L4.23,20.29 L3.77,20.54 L3.15,19.73 L2.71,19.91 L2.38,21.13 L1.91,21.26 L1.36,20.30 L0.91,20.37 L0.48,21.48 L0.00,21.50 L-0.45,20.41 L-0.91,20.37 L-1.43,21.36 L-1.91,21.26 L-2.26,20.07 L-2.71,19.91 L-3.31,20.77 L-3.77,20.54 L-4.02,19.28 L-4.44,19.01 L-5.12,19.71 L-5.55,19.37 L-5.68,18.06 L-6.08,17.69 L-6.81,18.20 L-7.21,17.76 L-7.22,16.43 L-7.58,15.97 L-8.35,16.30 L-8.71,15.76 L-8.60,14.44 L-8.91,13.89 L-9.70,14.02 L-10.01,13.41 L-9.78,12.13 L-10.05,11.51 L-10.84,11.44 L-11.09,10.75 L-10.75,9.54 L-10.96,8.86 L-11.73,8.60 L-11.92,7.85 L-11.48,6.75 L-11.62,6.02 L-12.36,5.56 L-12.48,4.78 L-11.95,3.80 L-12.02,3.04 L-12.72,2.41 L-12.76,1.61 L-12.15,0.76 L-12.16,0.00 L-12.79,-0.80 L-12.76,-1.61 L-12.08,-2.29 L-12.02,-3.04 L-12.58,-4.00 L-12.48,-4.78 L-11.75,-5.29 L-11.62,-6.02 L-12.08,-7.10 L-11.92,-7.85 L-11.15,-8.17 L-10.96,-8.86 L-11.32,-10.05 L-11.09,-10.75 L-10.30,-10.87 L-10.05,-11.51 L-10.30,-12.77 L-10.01,-13.41 L-9.22,-13.32 L-8.91,-13.89 L-9.05,-15.20 L-8.71,-15.76 L-7.93,-15.48 L-7.58,-15.97 L-7.60,-17.30 L-7.21,-17.76 L-6.47,-17.29 L-6.08,-17.69 L-5.98,-19.01 L-5.55,-19.37 L-4.86,-18.72 L-4.44,-19.01 L-4.23,-20.29 L-3.77,-20.54 L-3.15,-19.73 L-2.71,-19.91 L-2.38,-21.13 L-1.91,-21.26 L-1.36,-20.30 L-0.91,-20.37 L-0.48,-21.48 L-0.00,-21.50 L0.45,-20.41 L0.91,-20.37 L1.43,-21.36 L1.91,-21.26 L2.26,-20.07 L2.71,-19.91 L3.31,-20.77 L3.77,-20.54 L4.02,-19.28 L4.44,-19.01 L5.12,-19.71 L5.55,-19.37 L5.68,-18.06 L6.08,-17.69 L6.81,-18.20 L7.21,-17.76 L7.22,-16.43 L7.58,-15.97 L8.35,-16.30 L8.71,-15.76 L8.60,-14.44 L8.91,-13.89 L9.70,-14.02 L10.01,-13.41 L9.78,-12.13 L10.05,-11.51 L10.84,-11.44 L11.09,-10.75 L10.75,-9.54 L10.96,-8.86 L11.73,-8.60 L11.92,-7.85 L11.48,-6.75 L11.62,-6.02 L12.36,-5.56 L12.48,-4.78 L11.95,-3.80 L12.02,-3.04 L12.72,-2.41 L12.76,-1.61 L12.15,-0.76 Z" fill="#fff" stroke-width="1.2"/>
<ellipse cx="0" cy="0" rx="10.5" ry="18" stroke-width="0.8"/>
<ellipse cx="0.5" cy="0" rx="8" ry="14" stroke-width="0.8"/>
<ellipse cx="1" cy="0" rx="4.5" ry="8" stroke-width="0.9"/>
</g>
<line x1="228" y1="535.7" x2="248" y2="528.1" stroke-width="0.8"/>
<line x1="228" y1="540.3" x2="248" y2="532.7" stroke-width="0.8"/>
<line x1="228" y1="544.7" x2="248" y2="537.1" stroke-width="0.8"/>
<text x="243.2" y="493.5" text-anchor="middle" stroke="none">15</text>
<line x1="243.2" y1="495.5" x2="243.2" y2="510"/>
<path d="M271.9,508 C272.5,505 274,503.8 276,503.75 C278.5,503.8 280.5,505 283,505.1 C285,505 287,504 288.75,504.4 C291.5,505.5 293,508 293,510.75 L293,517.8 C294.5,519.5 296,520.5 297.2,522 C299.5,524 300.5,527 300,529 C299.5,531 298.5,531.9 297.2,531.9 L288.75,531.9 C285.5,531.9 282.5,531.5 280.3,530.4 C278,528 276.8,525 276,522 C274.5,519.5 273,517.5 271.9,515 C271.3,512.5 271.5,510 271.9,508 Z" fill="#fff" stroke-width="1.3"/>
<ellipse cx="275.6" cy="510" rx="1.6" ry="2.2" stroke-width="0.9"/>
<ellipse cx="293.1" cy="527.5" rx="1.6" ry="2.2" stroke-width="0.9"/>
<ellipse cx="283.75" cy="518.75" rx="5" ry="8" transform="rotate(-15 283.75 518.75)" stroke-width="1"/>
<path d="M281,513 L286,512 M280,516 L286,515 M280,519 L287,518 M281,522 L287,521" stroke-width="0.6"/>
<line x1="279.5" y1="516.0" x2="288" y2="512.7" stroke-width="0.8"/>
<line x1="279.5" y1="520.6" x2="288" y2="517.3" stroke-width="0.8"/>
<line x1="279.5" y1="525.0" x2="288" y2="521.7" stroke-width="0.8"/>
<text x="276.5" y="487.6" text-anchor="middle" stroke="none">27</text>
<line x1="276.25" y1="489.5" x2="276.25" y2="503"/>
<path d="M300.8,507 L308,503.6 C310,502.8 311,505.5 309.2,506.4 L302,509.8 C300,510.6 299,507.9 300.8,507 Z" fill="#fff" stroke-width="1.1"/>
<text x="303.75" y="488.8" text-anchor="middle" stroke="none">30</text>
<line x1="303.75" y1="491" x2="303.75" y2="503"/>
<path d="M277,533.5 L275,561.6 L272.25,561.6" stroke-width="1"/>
<path d="M262.5,563.5 L270.5,560.5 L272,563.5 L264,566.8 Z" fill="#fff" stroke-width="1"/>
<path d="M265.5,562.5 l1,3 M267.5,561.7 l1,3 M269.5,561 l1,3" stroke-width="0.6"/>
<ellipse cx="261" cy="566" rx="3" ry="3.8" transform="rotate(-15 261 566)" fill="#fff" stroke-width="1.2"/>
<line x1="262" y1="570" x2="262" y2="585"/>
<text x="262.3" y="595.3" text-anchor="middle" stroke="none">28</text>
<path d="M178.75,563.75 L180,565 L207.5,586.25 L192.5,592.5" stroke-width="1"/>
<path d="M184,594.5 L192,591.5 L193.5,594.5 L185.5,597.5 Z" fill="#fff" stroke-width="1"/>
<path d="M187,593.5 l1,3 M189,592.7 l1,3" stroke-width="0.6"/>
<ellipse cx="182.5" cy="596.8" rx="3" ry="3.8" transform="rotate(-15 182.5 596.8)" fill="#fff" stroke-width="1.2"/>
<line x1="183.75" y1="601" x2="183.75" y2="613.5"/>
<text x="183.75" y="624.5" text-anchor="middle" stroke="none">26</text>
<path d="M233.70,605.03 L235.57,605.46 L236.04,606.61 L234.90,607.93 L235.17,608.92 L237.00,610.14 L237.14,611.31 L235.54,611.85 L235.51,612.79 L237.05,614.63 L236.84,615.65 L234.99,615.35 L234.68,616.09 L235.72,618.32 L235.19,619.05 L233.34,617.94 L232.78,618.41 L233.18,620.71 L232.40,621.06 L230.80,619.29 L230.07,619.41 L229.79,621.47 L228.86,621.40 L227.73,619.21 L226.92,618.96 L225.99,620.52 L225.03,620.02 L224.53,617.71 L223.76,617.13 L222.30,617.96 L221.45,617.11 L221.63,614.99 L221.01,614.16 L219.21,614.16 L218.59,613.07 L219.44,611.42 L219.03,610.45 L217.15,609.61 L216.84,608.43 L218.23,607.49 L218.11,606.51 L216.40,604.95 L216.43,603.84 L218.19,603.72 L218.36,602.86 L217.05,600.79 L217.42,599.90 L219.31,600.62 L219.75,600.00 L219.02,597.70 L219.68,597.15 L221.44,598.61 L222.10,598.32 L222.03,596.09 L222.91,595.96 L224.29,597.97 L225.07,598.04 L225.69,596.19 L226.65,596.49 L227.48,598.77 L228.28,599.19 L229.51,597.98 L230.42,598.67 L230.58,600.92 L231.29,601.64 L232.95,601.21 L233.70,602.20 L233.17,604.12 Z" fill="#fff" stroke-width="1.2"/>
<ellipse cx="227" cy="608.7" rx="6.3" ry="9.8" transform="rotate(-28 227 608.7)" stroke-width="0.8"/>
<ellipse cx="227.5" cy="608.7" rx="4.6" ry="7.6" transform="rotate(-28 227.5 608.7)" stroke-width="0.8"/>
<ellipse cx="228" cy="608.7" rx="2.2" ry="4.3" transform="rotate(-28 228 608.7)" stroke-width="0.8"/>
<line x1="237.5" y1="610" x2="245" y2="610"/>
<text x="251.25" y="613.8" text-anchor="middle" stroke="none">25</text>
</g>
</svg>
</body></html>
